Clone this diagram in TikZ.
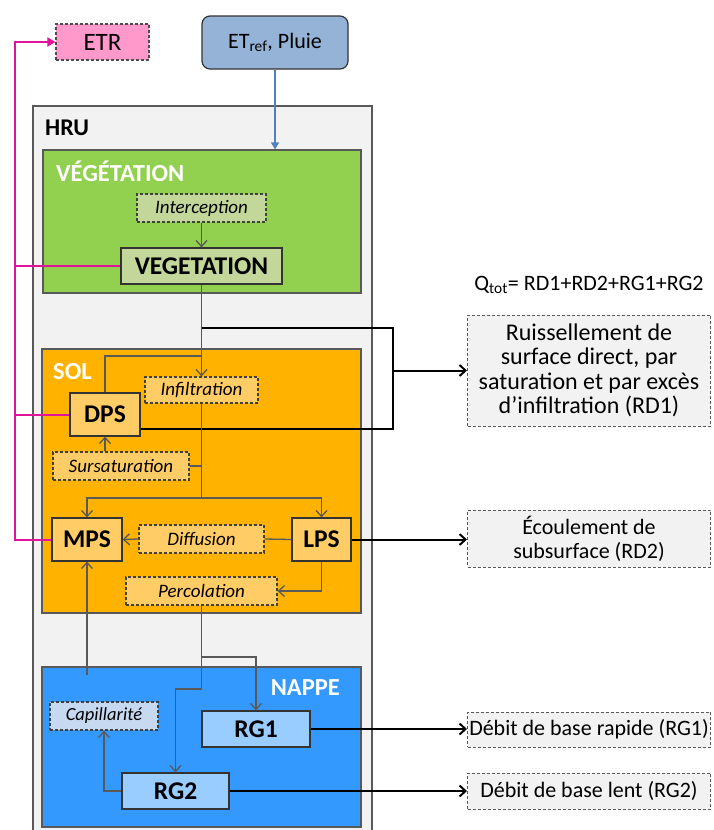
\documentclass[tikz,border=0pt]{standalone}
\usepackage{fontspec}
\setmainfont{Carlito}
\usetikzlibrary{arrows.meta}
\definecolor{hrugray}{HTML}{F2F2F2}
\definecolor{linegray}{HTML}{595959}
\definecolor{vegzonecol}{HTML}{92D050}
\definecolor{veglight}{HTML}{C4D79B}
\definecolor{solzonecol}{HTML}{FFB300}
\definecolor{sollight}{HTML}{FFCC66}
\definecolor{nappezonecol}{HTML}{3399FF}
\definecolor{nappelight}{HTML}{99CCFF}
\definecolor{capilcol}{HTML}{C6D9F1}
\definecolor{etrfill}{HTML}{FF99CC}
\definecolor{etrline}{HTML}{E0139A}
\definecolor{inputfill}{HTML}{95B3D7}
\definecolor{inputline}{HTML}{4F81BD}
\tikzset{
  zone/.style     = {draw=linegray, line width=1.2pt, minimum width=#1, inner sep=0pt},
  zonetitle/.style= {text=white, font=\fontsize{24.5}{26}\selectfont\bfseries, inner sep=0pt},
  block/.style    = {draw=black!80, line width=1.2pt, minimum height=36pt,
                     font=\fontsize{25.5}{27}\selectfont\bfseries, inner sep=0pt},
  process/.style  = {draw=black!75, line width=1.2pt, dash pattern=on 3pt off 2pt,
                     minimum height=28pt, font=\fontsize{19}{21}\selectfont\itshape, inner sep=0pt},
  output/.style   = {draw=black!65, fill=hrugray, line width=1pt, dash pattern=on 3pt off 2pt,
                     minimum width=243pt, align=center, inner sep=0pt,
                     font=\fontsize{22}{24}\selectfont},
  flow/.style     = {draw=linegray, line width=1.3pt},
  runoff/.style   = {draw=black, line width=2pt},
  evap/.style     = {draw=etrline, line width=2pt},
}

\begin{document}
\begin{tikzpicture}[x=1pt, y=-1pt, >={Straight Barb[length=6pt,width=11pt]}]
    \useasboundingbox (0,0) rectangle (713,830);

    \node [draw=black!70, fill=etrfill, line width=1.2pt, dash pattern=on 3pt off 2pt,
           minimum width=93pt, minimum height=36pt, inner sep=0pt,
           font=\fontsize{25}{27}\selectfont] (etr) at (102.5,42) {ETR};
    \node [draw=black!80, fill=inputfill, line width=1.2pt, rounded corners=8pt,
           minimum width=146pt, minimum height=53pt, inner sep=0pt,
           font=\fontsize{22}{24}\selectfont] (input) at (275,42.5) {ET\textsubscript{ref}, Pluie};

    \fill [hrugray] (33,106) rectangle (372,830);
    \draw [draw=linegray, line width=1.5pt] (33,830) |- (372,106) -- (372,830);
    \node [anchor=west, inner sep=0pt, font=\fontsize{24}{26}\selectfont\bfseries] (hru) at (45,128) {HRU};

    \node [zone=318pt, fill=vegzonecol, minimum height=143pt] (vegzone) at (202,221.5) {};
    \node [zonetitle, anchor=west] (vegtitle) at (56,171) {VÉGÉTATION};
    \node [process, fill=veglight, minimum width=129pt] (intercep) at (201.5,208) {Interception};
    \node [block, fill=veglight, minimum width=161pt] (vegetation) at (201.5,266) {VEGETATION};

    \node [zone=319pt, fill=solzonecol, minimum height=264pt] (solzone) at (201.5,481) {};
    \node [zonetitle, anchor=west] (soltitle) at (53,372) {SOL};
    \node [process, fill=sollight, minimum width=113pt, minimum height=26pt] (infil) at (201.5,390) {Infiltration};
    \node [block, fill=sollight, minimum width=70pt, minimum height=43pt] (dps) at (105,414.5) {DPS};
    \node [process, fill=sollight, minimum width=136pt] (sursat) at (121,466) {Sursaturation};
    \node [block, fill=sollight, minimum width=70pt, minimum height=43pt] (mps) at (87,539.5) {MPS};
    \node [block, fill=sollight, minimum width=59pt, minimum height=43pt] (lps) at (321.5,539.5) {LPS};
    \node [process, fill=sollight, minimum width=125pt] (diffus) at (201.5,539) {Diffusion};
    \node [process, fill=sollight, minimum width=151pt] (percol) at (201.5,591) {Percolation};

    \node [zone=319pt, fill=nappezonecol, minimum height=160pt] (nappezone) at (201.5,747) {};
    \node [zonetitle, anchor=east] (nappetitle) at (340,688) {NAPPE};
    \node [process, fill=capilcol, minimum width=108pt, font=\fontsize{18.5}{20}\selectfont\itshape] (capil) at (104,716) {Capillarité};
    \node [block, fill=nappelight, minimum width=108pt] (rg1) at (256,729) {RG1};
    \node [block, fill=nappelight, minimum width=107pt] (rg2) at (175.5,791) {RG2};

    \node [inner sep=0pt, font=\fontsize{22}{24}\selectfont] (qtot) at (589,285) {Q\textsubscript{tot}= RD1+RD2+RG1+RG2};
    \node [output, minimum height=111pt, font=\fontsize{24}{24.5}\selectfont] (rd1out) at (589,370.5) {Ruissellement de\\surface direct, par\\saturation et par excès\\d’infiltration (RD1)};
    \node [output, minimum height=57pt] (rd2out) at (589,538.5) {Écoulement de\\subsurface (RD2)};
    \node [output, minimum height=35pt] (rg1out) at (589,729.5) {Débit de base rapide (RG1)};
    \node [output, minimum height=36pt] (rg2out) at (589,791) {Débit de base lent (RG2)};

    \coordinate (evapx) at (15,42);
    \coordinate (split) at (201.5,328);
    \coordinate (dpsjoin) at (201.5,356);
    \coordinate (bkt) at (393,328);
    \coordinate (bkb) at (393,429);
    \coordinate (soldown) at (201.5,498);
    \coordinate (perdown) at (201.5,657);
    \coordinate (perturn) at (201.5,689);
    \coordinate (capup) at (87,675);

    \draw [draw=inputline, line width=1.3pt, -{Triangle[length=7pt,width=8pt]}] (input.south) -- (input.south |- vegzone.north);
    \draw [evap, -{Triangle[length=8pt,width=9pt]}] (mps.west) -| (evapx) -- (etr.west);
    \draw [evap] (dps.west) -- (dps.west -| evapx);
    \draw [evap] (vegetation.west) -- (vegetation.west -| evapx);

    \draw [flow, ->] (intercep) -- (vegetation);
    \draw [flow, ->] (vegetation.south) -- (infil.north);
    \draw [flow] (dps.north) |- (dpsjoin);
    \draw [runoff] (split) -- (bkt) -- (bkb) -- (bkb -| dps.east);
    \draw [runoff, ->] (bkt |- rd1out.west) -- (rd1out.west);
    \draw [flow] (infil.south) -- (soldown);
    \draw [flow] (sursat.east) -- (sursat.east -| soldown);
    \draw [flow, ->] (dps.south |- sursat.north) -- (dps.south);
    \draw [flow, ->] (soldown) -| (mps.north);
    \draw [flow, ->] (soldown) -| (lps.north);
    \draw [flow] (lps.west) -- (diffus.east);
    \draw [flow, ->] (diffus.west) -- (mps.east);
    \draw [runoff, ->] (lps.east) -- (lps.east -| rd2out.west);
    \draw [flow, ->] (lps.south) |- (percol.east);
    \draw [flow] (percol.south) -- (perturn);
    \draw [flow, ->] (perdown) -| (rg1.north);
    \draw [flow, ->] (perturn) -| (rg2.north);
    \draw [flow, ->] (capup) -- (mps.south);
    \draw [flow, ->] (rg2.west) -| (capil.south);
    \draw [runoff, ->] (rg1.east) -- (rg1.east -| rg1out.west);
    \draw [runoff, ->] (rg2.east) -- (rg2.east -| rg2out.west);
\end{tikzpicture}
\end{document}
